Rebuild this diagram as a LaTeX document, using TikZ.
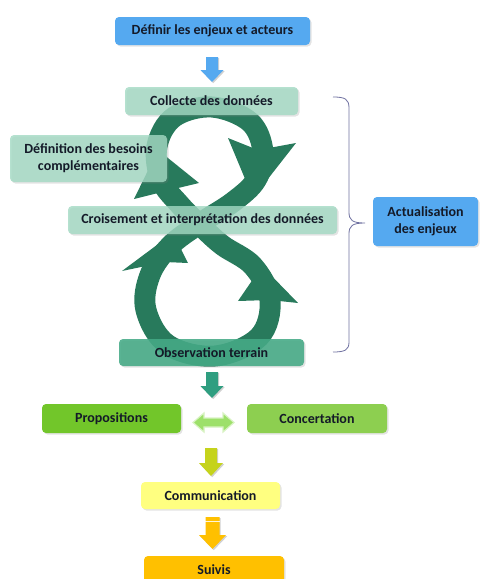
\documentclass[tikz,border=0pt]{standalone}
\usepackage{fontspec}
\setmainfont{Carlito}
\usetikzlibrary{shadows}
\definecolor{txt}{HTML}{141A28}
\definecolor{bluebox}{HTML}{55A9F0}
\definecolor{tealbox}{HTML}{A2D9C3}
\definecolor{obsbox}{HTML}{44AA86}
\definecolor{ringc}{HTML}{287A5C}
\definecolor{proposc}{HTML}{72C62A}
\definecolor{concertc}{HTML}{8DCF50}
\definecolor{commc}{HTML}{FFFF80}
\definecolor{suivisc}{HTML}{FFC000}
\definecolor{tealarrow}{HTML}{2F9E80}
\definecolor{ygarrow}{HTML}{C5D31C}
\definecolor{dblarrow}{HTML}{9DE06A}
\definecolor{bracec}{HTML}{6E70A0}
\begin{document}
\begin{tikzpicture}[x=1pt,y=-1pt,
  box/.style={rectangle, rounded corners=4pt, inner sep=0pt, align=center,
    font=\bfseries\fontsize{14}{17}\selectfont, text=txt,
    drop shadow={shadow xshift=1.5pt,shadow yshift=-1.5pt,opacity=0.22}},
  glass/.style={box, fill=tealbox, fill opacity=0.8, text opacity=1},
  ringline/.style={draw=ringc, line width=21pt, line join=round},
  head/.style={fill=ringc},
  % down block arrow: length / head width / shaft width / head length
  pics/darr/.style args={#1/#2/#3/#4}{code={
    \fill[black, opacity=0.18, shift={(1.2,1.2)}] ({-#3/2},0) -- ({#3/2},0) -- ({#3/2},{#1-#4}) -- ({#2/2},{#1-#4}) -- (0,#1) -- ({-#2/2},{#1-#4}) -- ({-#3/2},{#1-#4}) -- cycle;
    \fill[pic actions] ({-#3/2},0) -- ({#3/2},0) -- ({#3/2},{#1-#4}) -- ({#2/2},{#1-#4}) -- (0,#1) -- ({-#2/2},{#1-#4}) -- ({-#3/2},{#1-#4}) -- cycle;
  }},
  % horizontal double arrow: length / head width / shaft width / head length
  pics/dblarr/.style args={#1/#2/#3/#4}{code={
    \path[pic actions] ({-#1/2},0) -- ({-#1/2+#4},{-#2/2}) -- ({-#1/2+#4},{-#3/2}) -- ({#1/2-#4},{-#3/2}) -- ({#1/2-#4},{-#2/2}) -- ({#1/2},0) -- ({#1/2-#4},{#2/2}) -- ({#1/2-#4},{#3/2}) -- ({-#1/2+#4},{#3/2}) -- ({-#1/2+#4},{#2/2}) -- cycle;
  }}
]
\useasboundingbox (0,0) rectangle (480,579);

% figure-eight ribbon
\draw[ringline] plot[smooth cycle, tension=0.6] coordinates {
  (199,224) (233,202) (256,180) (263,152) (250,122) (212,107) (174,117)
  (157,146) (161,180) (180,205) (199,224) (222,245) (253,266) (270,300)
  (259,337) (215,356) (168,345) (146,310) (150,275) (170,246)};
% arrow heads
\fill[head] (228,138) -- (258,150) -- (296,143) -- (253,198) -- cycle;
\fill[head] (158,150) -- (199,183) -- (174,189) -- (134,199) -- cycle;
\fill[head] (173,233) -- (188,263) -- (165,262) -- (122,271) -- cycle;
\fill[head] (262,266) -- (298,303) -- (270,300) -- (238,301) -- cycle;

% boxes
\node[box, fill=bluebox, minimum width=195pt, minimum height=28pt] (defin) at (212.5,31) {Définir les enjeux et acteurs};
\node[glass, minimum width=173pt, minimum height=28pt] (collecte) at (211.5,101) {Collecte des données};
\node[glass, minimum width=157pt, minimum height=47pt] (besoins) at (88.5,158.5) {Définition des besoins\\complémentaires};
\node[glass, minimum width=269pt, minimum height=28pt] (crois) at (202.5,220) {Croisement et interprétation des données};
\node[box, fill=obsbox, fill opacity=0.88, text opacity=1, minimum width=185pt, minimum height=27pt] (obs) at (211.5,352.5) {Observation terrain};
\node[box, fill=bluebox, minimum width=105pt, minimum height=49pt] (actual) at (425.5,221.5) {Actualisation\\des enjeux};
\node[box, fill=proposc, minimum width=139pt, minimum height=29pt] (propos) at (111.5,418.5) {Propositions};
\node[box, fill=concertc, minimum width=140pt, minimum height=29pt] (concert) at (317,418.5) {Concertation};
\node[box, fill=commc, minimum width=139pt, minimum height=27pt] (comm) at (210.5,495.5) {Communication};
\node[box, fill=suivisc, minimum width=140pt, minimum height=28pt] (suivis) at (214,570) {Suivis};

% block arrows
\pic[fill=bluebox] (a1) at (212,57) {darr=25/23/12/12};
\pic[fill=tealarrow] (a2) at (212,372) {darr=26/23/12/12};
\pic[fill=dblarrow, draw=dblarrow!40!white, line width=1.2pt] (a3) at (213.5,422.5) {dblarr=41/19/9/11};
\pic[fill=ygarrow] (a4) at (211,448) {darr=28/24/12/13};
\pic[fill=suivisc] (a5) at (212.5,517) {darr=32/27/14/14};
\draw[white, line width=0.8pt, opacity=0.85] (205,521) -- (220,521);

% brace
\coordinate (bt) at (333,97);
\coordinate (bm) at (365,223);
\coordinate (bb) at (333,352);
\draw[bracec, line width=0.8pt] (bt) .. controls (345,97) and (349,99) .. (349,108)
  -- (349,212) .. controls (349,220) and (352,223) .. (bm)
  .. controls (352,223) and (349,226) .. (349,234)
  -- (349,342) .. controls (349,350) and (345,352) .. (bb);
\end{tikzpicture}
\end{document}
